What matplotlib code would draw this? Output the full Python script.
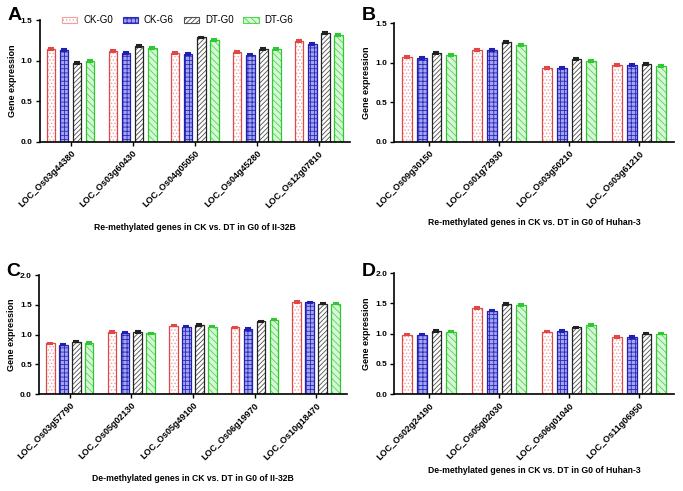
import numpy as np
import matplotlib
matplotlib.use('Agg')
import matplotlib.pyplot as plt
from matplotlib.patches import Patch

plt.rcParams['font.family'] = ['Liberation Sans', 'DejaVu Sans']
plt.rcParams['hatch.linewidth'] = 0.6

# data
series = ['CK-G0', 'CK-G6', 'DT-G0', 'DT-G6']

genes_a = ['LOC_Os03g44380', 'LOC_Os03g60430', 'LOC_Os04g05050', 'LOC_Os04g45280', 'LOC_Os12g07810']
vals_a = [[1.15, 1.12, 1.10, 1.11, 1.25],
          [1.14, 1.10, 1.09, 1.08, 1.21],
          [0.98, 1.19, 1.29, 1.15, 1.34],
          [1.00, 1.16, 1.26, 1.15, 1.32]]

genes_b = ['LOC_Os09g30150', 'LOC_Os01g72930', 'LOC_Os03g50210', 'LOC_Os03g61210']
vals_b = [[1.07, 1.16, 0.94, 0.97],
          [1.06, 1.16, 0.94, 0.97],
          [1.13, 1.26, 1.05, 0.99],
          [1.10, 1.23, 1.02, 0.96]]

genes_c = ['LOC_Os03g57790', 'LOC_Os05g02130', 'LOC_Os05g49100', 'LOC_Os06g19970', 'LOC_Os10g18470']
vals_c = [[0.85, 1.04, 1.15, 1.12, 1.55],
          [0.83, 1.03, 1.13, 1.09, 1.54],
          [0.88, 1.04, 1.16, 1.22, 1.52],
          [0.86, 1.02, 1.13, 1.25, 1.52]]

genes_d = ['LOC_Os02g24190', 'LOC_Os05g02030', 'LOC_Os06g01040', 'LOC_Os11g06950']
vals_d = [[0.98, 1.42, 1.03, 0.94],
          [0.98, 1.38, 1.04, 0.94],
          [1.04, 1.49, 1.10, 1.00],
          [1.03, 1.47, 1.14, 1.00]]

err = 0.012

# style per series: face, hatch colour (via edge), hatch, outline colour
styles = [
    dict(face='white', hc='#f0a0a0', hatch='.....', edge='#e04848'),
    dict(face='#a4a4f2', hc='#2a2ab8', hatch='++++', edge='#2020b0'),
    dict(face='white', hc='#505050', hatch='///////', edge='#222222'),
    dict(face='#d8f7d8', hc='#50d850', hatch='\\\\\\\\\\', edge='#30c830'),
]

fig = plt.figure(figsize=(6.83, 4.91), dpi=100)

panels = [
    ('A', genes_a, vals_a, 1.5, [0.058, 0.7108, 0.454, 0.2475], (0.021, 0.968), 10,
     'Re-methylated genes in CK vs. DT in G0 of II-32B'),
    ('B', genes_b, vals_b, 1.5, [0.577, 0.7108, 0.41, 0.2417], (0.540, 0.968), 6,
     'Re-methylated genes in CK vs. DT in G0 of Huhan-3'),
    ('C', genes_c, vals_c, 2.0, [0.057, 0.1975, 0.451, 0.2424], (0.019, 0.447), 9,
     'De-methylated genes in CK vs. DT in G0 of II-32B'),
    ('D', genes_d, vals_d, 2.0, [0.577, 0.1975, 0.41, 0.2464], (0.540, 0.447), 3,
     'De-methylated genes in CK vs. DT in G0 of Huhan-3'),
]

pitch = 0.21
width = 0.14

for letter, genes, vals, ytop, pos, lpos, xpad, xlab in panels:
    ax = fig.add_axes(pos)
    x = np.arange(len(genes))
    for i, s in enumerate(styles):
        xi = x + (i - 1.5) * pitch
        v = np.array(vals[i])
        ax.bar(xi, v, width, color=s['face'], edgecolor=s['hc'], hatch=s['hatch'], linewidth=0)
        ax.bar(xi, v, width, fill=False, edgecolor=s['edge'], linewidth=0.9)
        ax.errorbar(xi, v, yerr=err, fmt='none', ecolor=s['edge'], elinewidth=1.2,
                    capsize=2.5, capthick=1.5)
    ax.set_xlim(-0.5, len(genes) - 0.5)
    ax.set_ylim(0, ytop)
    ax.set_yticks(np.arange(0, ytop + 0.01, 0.5))
    ax.set_yticklabels(['%.1f' % t for t in np.arange(0, ytop + 0.01, 0.5)],
                       fontsize=6, fontweight='bold')
    ax.set_xticks(x)
    ax.set_xticklabels(genes, rotation=45, ha='right', rotation_mode='anchor',
                       fontsize=6.5, fontweight='bold')
    ax.tick_params(length=3, width=1, pad=2)
    for sp in ['top', 'right']:
        ax.spines[sp].set_visible(False)
    for sp in ['left', 'bottom']:
        ax.spines[sp].set_linewidth(1.2)
    ax.set_ylabel('Gene expression', fontsize=6.5, fontweight='bold', labelpad=3)
    ax.set_xlabel(xlab, fontsize=6.2, fontweight='bold', labelpad=xpad)
    fig.text(lpos[0], lpos[1], letter, fontsize=14, fontweight='bold', ha='center', va='center')

    if letter == 'A':
        handles = [Patch(facecolor=s['face'], edgecolor=s['hc'], hatch=s['hatch'], linewidth=0.8)
                   for s in styles]
        ax.legend(handles, series, ncol=4, frameon=False, fontsize=7,
                  loc='center', bbox_to_anchor=(0.445, 1.0), handlelength=1.6,
                  handleheight=0.7, columnspacing=1.0, handletextpad=0.6)

fig.savefig('out.png', dpi=100)
